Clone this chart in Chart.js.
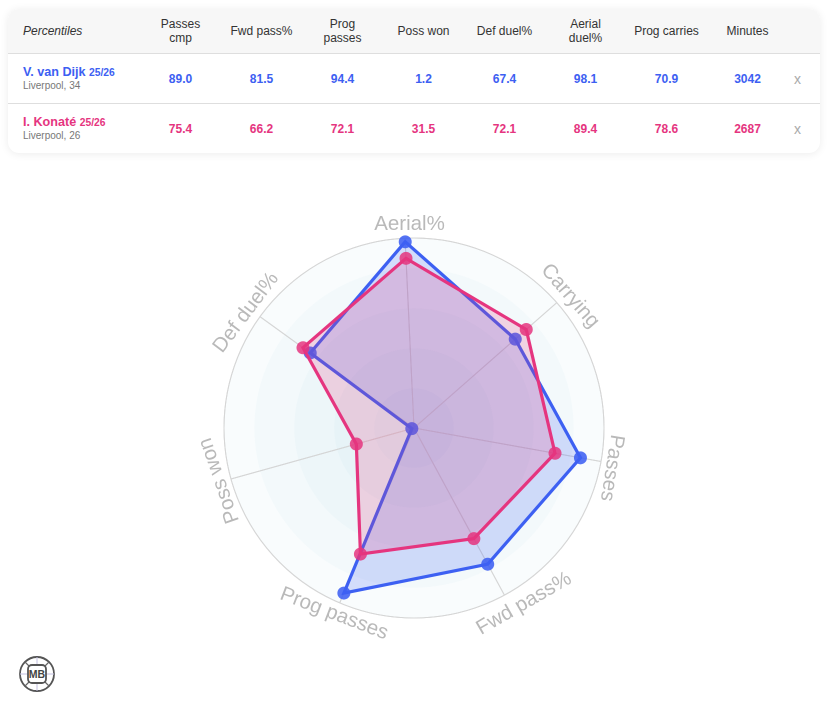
<!DOCTYPE html>
<html><head><meta charset="utf-8">
<script src="https://cdn.jsdelivr.net/npm/chart.js@4"></script>
<style>
html,body{margin:0;padding:0;background:#fff;font-family:"Liberation Sans",Arial,sans-serif;}
body{width:829px;height:708px;position:relative;overflow:hidden;}
#card{position:absolute;left:8px;top:9px;width:812px;height:144px;border-radius:11px;background:#fff;box-shadow:0 1px 8px rgba(0,0,0,.08);overflow:hidden;}
.row{position:absolute;left:0;width:812px;}
.hd{top:0;height:44px;background:#f7f7f7;border-bottom:1px solid #dedede;}
.r1{top:45px;height:49px;border-bottom:1px solid #dedede;}
.r2{top:95px;height:49px;}
.c{position:absolute;top:0;width:81px;height:100%;display:flex;align-items:center;justify-content:center;text-align:center;font-size:12px;line-height:14px;color:#333;}
.v{font-weight:bold;}
.first{position:absolute;left:15px;top:0;height:100%;display:flex;flex-direction:column;justify-content:center;}
.nm{font-weight:bold;font-size:12.6px;line-height:13.5px;}
.nm small{font-size:10.3px;}
.sb{font-size:10px;color:#777;line-height:11px;}
.x{position:absolute;left:786px;top:17px;font-size:14px;line-height:16px;color:#aaa;}
#wrap{position:absolute;left:184px;top:198px;width:460px;height:460px;}
#logo{position:absolute;left:18px;top:655px;}
</style></head><body>
<div id="card"></div>
<div id="wrap"><canvas id="chart" width="460" height="460"></canvas></div>
<svg id="logo" width="38" height="38" viewBox="0 0 38 38">
<circle cx="19" cy="19" r="17" fill="#fff" stroke="#555" stroke-width="1.8"/>
<path d="M19 2V10M19 28V36M2 19H10M28 19H36" stroke="#c2bfe0" stroke-width="1" fill="none"/>
<path d="M7 7L11 11M31 7L27 11M7 31L11 27M31 31L27 27" stroke="#666" stroke-width="1.2" fill="none"/>
<rect x="10" y="10" width="18" height="18" rx="4" fill="#fff" stroke="#555" stroke-width="1.8"/>
<text x="19" y="23" text-anchor="middle" font-family="Liberation Sans" font-weight="bold" font-size="10.5" fill="#444">MB</text>
</svg>
<script>
const categories = ["Aerial%", "Carrying", "Passes", "Fwd pass%", "Prog passes", "Poss won", "Def duel%"];
const vanDijk = [98.1, 70.9, 89.0, 81.5, 94.4, 1.2, 67.4];
const konate = [89.4, 78.6, 75.4, 66.2, 72.1, 31.5, 72.1];
const ringValues = [100, 84, 63, 42, 21];

const tableHeaders = ["Passes<br>cmp", "Fwd pass%", "Prog<br>passes", "Poss won", "Def duel%", "Aerial<br>duel%", "Prog carries", "Minutes"];
const vanDijkRow = ["89.0", "81.5", "94.4", "1.2", "67.4", "98.1", "70.9", "3042"];
const konateRow = ["75.4", "66.2", "72.1", "31.5", "72.1", "89.4", "78.6", "2687"];

const BLUE = "#3d60f2", PINK = "#e5357f";
const card = document.getElementById("card");
const colLeft = i => 132 + i * 81;
function row(cls, first, cells, color, x) {
  const d = document.createElement("div"); d.className = "row " + cls;
  d.innerHTML = first + cells.map((t, i) =>
    `<div class="c ${color ? "v" : ""}" style="left:${colLeft(i)}px;${color ? "color:" + color : ""}">${t}</div>`).join("") +
    (x ? '<div class="x">x</div>' : "");
  card.appendChild(d);
}
row("hd", '<div class="first" style="font-style:italic;font-size:12px;color:#333">Percentiles</div>', tableHeaders);
row("r1", `<div class="first"><div class="nm" style="color:${BLUE}">V. van Dijk <small>25/26</small></div><div class="sb">Liverpool, 34</div></div>`, vanDijkRow, BLUE, true);
row("r2", `<div class="first"><div class="nm" style="color:${PINK}">I. Konaté <small>25/26</small></div><div class="sb">Liverpool, 26</div></div>`, konateRow, PINK, true);

const START_ANGLE = -2.7;
// style of the rotated axis captions: bearing from top and distance beyond centre, text rotation
const captionBearing = [-1.3, 49.8, 101.5, 148, 203.2, 255, 304.4];
const captionDistance = [198, 198.7, 196, 213, 208, 196, 198];
const captionRotation = [0, 49, 99, -30, 21, -109, -53];

const ringsPlugin = {
  id: "rings",
  beforeDatasetsDraw(c) {
    const s = c.scales.r, x = c.ctx;
    x.save();
    ringValues.forEach(v => {
      x.beginPath();
      x.arc(s.xCenter, s.yCenter, s.getDistanceFromCenterForValue(v), 0, Math.PI * 2);
      x.fillStyle = "rgba(50,130,190,0.028)";
      x.fill();
    });
    x.strokeStyle = "#d6d6d6"; x.lineWidth = 1;
    categories.forEach((_, i) => {
      const p = s.getPointPositionForValue(i, 100);
      x.beginPath(); x.moveTo(s.xCenter, s.yCenter); x.lineTo(p.x, p.y); x.stroke();
    });
    x.beginPath(); x.arc(s.xCenter, s.yCenter, s.getDistanceFromCenterForValue(100), 0, Math.PI * 2); x.stroke();
    x.restore();
  },
  afterDatasetsDraw(c) {
    const s = c.scales.r, x = c.ctx;
    x.save();
    x.font = '20.5px "Liberation Sans"';
    x.fillStyle = "#b9b9b9";
    x.textAlign = "center";
    x.textBaseline = "alphabetic";
    categories.forEach((t, i) => {
      const a = captionBearing[i] * Math.PI / 180;
      x.save();
      x.translate(s.xCenter + captionDistance[i] * Math.sin(a), s.yCenter - captionDistance[i] * Math.cos(a));
      x.rotate(captionRotation[i] * Math.PI / 180);
      x.fillText(t, 0, 0);
      x.restore();
    });
    x.restore();
  }
};

new Chart(document.getElementById("chart"), {
  type: "radar",
  data: {
    labels: categories,
    datasets: [
      { label: "V. van Dijk", data: vanDijk, order: 2, borderColor: BLUE, backgroundColor: "rgba(61,96,242,0.2)", borderWidth: 3.2, pointRadius: 6.5, pointHoverRadius: 6.5, pointBorderWidth: 0, pointBackgroundColor: "rgba(61,96,242,0.88)" },
      { label: "I. Konaté", data: konate, order: 1, borderColor: PINK, backgroundColor: "rgba(229,53,127,0.2)", borderWidth: 3.2, pointRadius: 6.5, pointHoverRadius: 6.5, pointBorderWidth: 0, pointBackgroundColor: "rgba(229,53,127,0.85)" }
    ]
  },
  options: {
    responsive: false, animation: false, devicePixelRatio: 2,
    layout: { padding: 40 },
    plugins: { legend: { display: false }, tooltip: { enabled: false } },
    scales: { r: {
      min: 0, max: 100, startAngle: START_ANGLE,
      ticks: { display: false, stepSize: 100 },
      pointLabels: { display: false },
      grid: { circular: true, color: "#d6d6d6" },
      angleLines: { color: "#d6d6d6" }
    } }
  },
  plugins: [ringsPlugin]
});
</script>
</body></html>
